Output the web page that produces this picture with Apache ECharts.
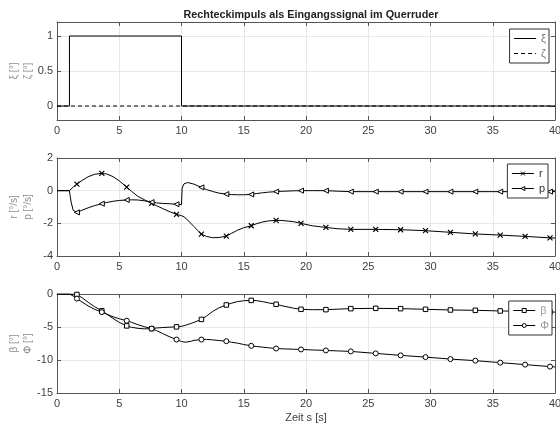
<!DOCTYPE html>
<html>
<head>
<meta charset="utf-8">
<script src="https://cdn.jsdelivr.net/npm/echarts@6/dist/echarts.min.js"></script>
<style>
  html, body { margin: 0; padding: 0; background: #fff; }
  #chart { width: 560px; height: 428px; }
</style>
</head>
<body>
<div id="chart"></div>
<script>
// gemeinsame Zeitachse
const xTicks = [0, 5, 10, 15, 20, 25, 30, 35, 40];
const markerTimes = [1.6, 3.6, 5.6, 7.6, 9.6, 11.6, 13.6, 15.6, 17.6, 19.6,
                     21.6, 23.6, 25.6, 27.6, 29.6, 31.6, 33.6, 35.6, 37.6, 39.6];

// Eingangssignal
const tTop = [0, 1, 1, 10, 10, 40];
const xiVals = [0, 0, 1, 1, 0, 0];
const tZeta = [0, 40];
const zetaVals = [0, 0];
const topTicks = [0, 0.5, 1];

// Drehraten r, p
const tMid = [0, 1, 1.05, 1.15, 1.3, 1.6, 2, 2.5, 3, 3.6, 4, 4.5, 5, 5.6, 6, 6.5, 7, 7.6, 8, 8.5, 9, 9.6,
              10, 10.05, 10.2, 10.5, 11, 11.6, 12, 12.5, 13, 13.6, 14, 14.5, 15, 15.6, 16, 16.5, 17, 17.6,
              18, 19, 19.6, 20.5, 21.6, 22.5, 23.6, 25.6, 27.6, 29.6, 31.6, 33.6, 35.6, 37.6, 39.6, 40];
const rVals = [0, 0, 0.02, 0.1, 0.22, 0.40, 0.62, 0.85, 1.0, 1.06, 1.02, 0.86, 0.6, 0.22, -0.05, -0.35, -0.55, -0.78, -0.92, -1.1, -1.27, -1.45,
               -1.53, -1.55, -1.6, -1.8, -2.2, -2.66, -2.8, -2.88, -2.87, -2.78, -2.62, -2.42, -2.27, -2.15, -2.03, -1.92, -1.85, -1.82,
               -1.82, -1.9, -2.0, -2.15, -2.25, -2.33, -2.37, -2.37, -2.39, -2.45, -2.55, -2.65, -2.72, -2.8, -2.89, -2.9];
const pVals = [0, 0, -0.3, -0.75, -1.2, -1.33, -1.2, -1.05, -0.92, -0.8, -0.72, -0.65, -0.6, -0.57, -0.56, -0.57, -0.62, -0.7, -0.75, -0.78, -0.8, -0.83,
               -0.85, 0.15, 0.42, 0.5, 0.4, 0.2, 0.07, -0.05, -0.15, -0.21, -0.24, -0.25, -0.25, -0.23, -0.18, -0.13, -0.09, -0.06,
               -0.04, -0.01, 0.0, 0.0, 0.0, -0.03, -0.06, -0.06, -0.06, -0.06, -0.06, -0.06, -0.06, -0.06, -0.06, -0.06];

// Winkel beta, Phi
const tBot = [0, 1, 1.3, 1.6, 2, 2.5, 3, 3.6, 4, 4.5, 5, 5.6, 6, 6.5, 7, 7.6, 8, 8.5, 9, 9.6,
              10, 10.3, 10.7, 11, 11.6, 12, 12.5, 13, 13.6, 14, 14.5, 15, 15.6, 16, 16.5, 17, 17.6,
              18, 19, 19.6, 20.5, 21.6, 22.5, 23.6, 25.6, 27.6, 29.6, 31.6, 33.6, 35.6, 37.6, 39.6, 40];
const betaVals = [0, 0, -0.02, -0.08, -0.55, -1.25, -1.9, -2.55, -3.05, -3.7, -4.3, -4.83, -5.05, -5.2, -5.28, -5.25, -5.15, -5.08, -5.03, -4.98,
                  -4.9, -4.75, -4.5, -4.3, -3.85, -3.35, -2.65, -2.1, -1.66, -1.4, -1.15, -1.02, -0.97, -1.0, -1.15, -1.35, -1.56,
                  -1.75, -2.15, -2.32, -2.38, -2.37, -2.3, -2.22, -2.17, -2.22, -2.32, -2.42, -2.47, -2.57, -2.62, -2.72, -2.74];
const phiVals = [0, 0, -0.3, -0.7, -1.2, -1.8, -2.3, -2.75, -3.05, -3.45, -3.75, -4.05, -4.3, -4.65, -4.95, -5.25, -5.55, -6.0, -6.45, -6.9,
                 -7.2, -7.3, -7.2, -7.02, -6.9, -6.88, -6.95, -7.05, -7.15, -7.3, -7.45, -7.65, -7.85, -7.95, -8.05, -8.15, -8.26,
                 -8.3, -8.37, -8.4, -8.48, -8.55, -8.62, -8.7, -9.0, -9.3, -9.56, -9.86, -10.1, -10.4, -10.7, -11.0, -11.05];

const axisCol = '#555';
const labelCol = '#404040';
const nameCol = '#8c8c8c';
const font = 'Liberation Sans, Arial, Helvetica, sans-serif';
const crossPath = 'path://M0,0L10,10M0,10L10,0';

function toData(ts, vs, marks) {
    return ts.map((t, i) => {
        const hit = marks && marks.some(m => Math.abs(m - t) < 1e-6);
        return hit ? { value: [t, vs[i]] } : { value: [t, vs[i]], symbol: 'none' };
    });
}

const grids = [
    { left: 57, top: 22, width: 498, height: 98, outerBoundsMode: 'none' },
    { left: 57, top: 158, width: 498, height: 98, outerBoundsMode: 'none' },
    { left: 57, top: 294, width: 498, height: 99, outerBoundsMode: 'none' }
];
const yRanges = [
    { min: -0.2, max: 1.2 },
    { min: -4, max: 2, interval: 2 },
    { min: -15, max: 0, interval: 5 }
];
const yNames = ['ξ [°]\nζ [°]', 'r [°/s]\np [°/s]', 'β [°]\nΦ [°]'];

let xAxes = [], yAxes = [];
for (let i = 0; i < 3; i++) {
    const lineStyle = { color: axisCol, width: 1 };
    const tick = { show: true, inside: true, length: 4, lineStyle: lineStyle };
    xAxes.push({
        type: 'value', gridIndex: i, min: 0, max: 40, interval: 5,
        axisLine: { show: true, onZero: false, lineStyle: lineStyle },
        axisTick: tick,
        axisLabel: { color: labelCol, fontSize: 11, fontFamily: font, margin: 5 },
        splitLine: { show: true, lineStyle: { color: '#e8e8e8', width: 1 } },
        name: i === 2 ? 'Zeit s [s]' : '',
        nameLocation: 'middle', nameGap: 19, nameMoveOverlap: false,
        nameTextStyle: { color: labelCol, fontSize: 11, fontFamily: font }
    });
    let yl = {
        type: 'value', gridIndex: i, min: yRanges[i].min, max: yRanges[i].max,
        axisLine: { show: true, onZero: false, lineStyle: lineStyle },
        axisTick: Object.assign({}, tick),
        axisLabel: { color: labelCol, fontSize: 11, fontFamily: font, margin: 4 },
        splitLine: { show: true, lineStyle: { color: '#e8e8e8', width: 1 } },
        name: yNames[i], nameLocation: 'middle', nameRotate: 90, nameGap: 22,
        nameMoveOverlap: false,
        nameTextStyle: { color: nameCol, fontSize: 10, lineHeight: 14, fontFamily: font }
    };
    if (yRanges[i].interval) {
        yl.interval = yRanges[i].interval;
    } else {
        yl.axisLabel.customValues = topTicks;
        yl.axisTick.customValues = topTicks;
    }
    yAxes.push(yl);
}
for (let i = 0; i < 3; i++) {
    const lineStyle = { color: axisCol, width: 1 };
    xAxes.push({
        type: 'value', gridIndex: i, position: 'top', min: 0, max: 40, interval: 5,
        axisLine: { show: true, onZero: false, lineStyle: lineStyle },
        axisTick: { show: true, inside: true, length: 4, lineStyle: lineStyle },
        axisLabel: { show: false }, splitLine: { show: false }
    });
    let yr = {
        type: 'value', gridIndex: i, position: 'right', min: yRanges[i].min, max: yRanges[i].max,
        axisLine: { show: true, onZero: false, lineStyle: lineStyle },
        axisTick: { show: true, inside: true, length: 4, lineStyle: lineStyle },
        axisLabel: { show: false }, splitLine: { show: false }
    };
    if (yRanges[i].interval) yr.interval = yRanges[i].interval;
    else yr.axisTick.customValues = topTicks;
    yAxes.push(yr);
}

const lineBase = { type: 'line', showAllSymbol: true, animation: false, symbolSize: 5,
                   lineStyle: { color: '#000', width: 1 } };
const mk = (o) => Object.assign({}, lineBase, o);
const markStyle = { color: '#fff', borderColor: '#000', borderWidth: 1 };

const legendBase = {
    orient: 'vertical', itemGap: 4, itemWidth: 22, itemHeight: 5,
    padding: [4, 3, 4, 4], borderColor: '#333', borderWidth: 1, backgroundColor: '#fff',
    lineStyle: { width: 1, color: '#000' },
    itemStyle: { color: '#fff', borderColor: '#000', borderWidth: 1 },
    textStyle: { fontSize: 11, fontFamily: font, color: '#333' }
};

let chart = echarts.init(document.getElementById('chart'));
let option = {
    animation: false,
    title: {
        text: 'Rechteckimpuls als Eingangssignal im Querruder',
        left: 306, top: 5, textAlign: 'center',
        textStyle: { fontSize: 10.8, fontWeight: 'bold', fontFamily: font, color: '#222' }
    },
    grid: grids,
    xAxis: xAxes,
    yAxis: yAxes,
    legend: [
        Object.assign({}, legendBase, { data: ['ξ', 'ζ'], right: 11, top: 29,
            itemStyle: { color: 'rgba(0,0,0,0)', borderColor: 'rgba(0,0,0,0)', borderWidth: 0 },
            textStyle: { fontSize: 11, fontFamily: font, color: '#777' } }),
        Object.assign({}, legendBase, { data: ['r', 'p'], right: 12, top: 164, symbolRotate: 90 }),
        Object.assign({}, legendBase, { data: ['β', 'Φ'], right: 8, top: 301,
            textStyle: { fontSize: 11, fontFamily: font, color: '#999' } })
    ],
    series: [
        mk({ name: 'ξ', xAxisIndex: 0, yAxisIndex: 0, symbol: 'none', data: toData(tTop, xiVals) }),
        mk({ name: 'ζ', xAxisIndex: 0, yAxisIndex: 0, symbol: 'none',
             lineStyle: { color: '#000', width: 1, type: [4, 3] }, data: toData(tZeta, zetaVals) }),
        mk({ name: 'r', xAxisIndex: 1, yAxisIndex: 1,
             symbol: crossPath,
             itemStyle: { color: '#000', borderColor: '#000', borderWidth: 1.2 },
             data: toData(tMid, rVals, markerTimes) }),
        mk({ name: 'p', xAxisIndex: 1, yAxisIndex: 1,
             symbol: 'triangle', symbolRotate: 90, itemStyle: markStyle,
             data: toData(tMid, pVals, markerTimes) }),
        mk({ name: 'β', xAxisIndex: 2, yAxisIndex: 2,
             symbol: 'rect', symbolSize: 4.5, itemStyle: markStyle,
             data: toData(tBot, betaVals, markerTimes) }),
        mk({ name: 'Φ', xAxisIndex: 2, yAxisIndex: 2,
             symbol: 'circle', itemStyle: markStyle,
             data: toData(tBot, phiVals, markerTimes) })
    ]
};
chart.setOption(option);
</script>
</body>
</html>
